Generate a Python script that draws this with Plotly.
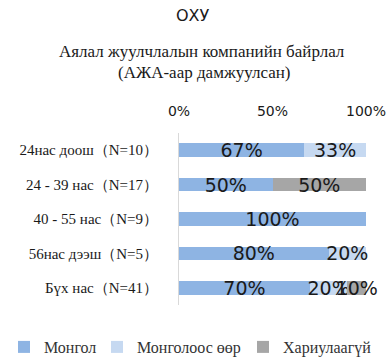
import plotly.graph_objects as go

categories = ["24нас доош（N=10）", "24 - 39 нас（N=17）", "40 - 55 нас（N=9）",
              "56нас дээш（N=5）", "Бүх нас（N=41）"]
series_names = ["Монгол", "Монголоос өөр", "Хариулаагүй"]
mongol = [67, 50, 100, 80, 70]
other = [33, 0, 0, 20, 20]
no_answer = [0, 50, 0, 0, 10]
colors = ["#8EB4E3", "#C6D9F1", "#A6A6A6"]

SERIF = "Liberation Serif, Times New Roman, serif"
SANS = "DejaVu Sans, Verdana, sans-serif"

W, H = 386, 358
L, R, T, B = 179, 20, 133, 53
plot_w = W - L - R
plot_h = H - T - B


def px(xp):
    return (xp - L) / plot_w


def py(yp):
    return (H - B - yp) / plot_h


# one legend box per series so each entry sits at its own spot along the bottom
legend_ids = ["legend", "legend2", "legend3"]
legend_left = [4, 97, 243]

fig = go.Figure()
for name, vals, col, lg in zip(series_names, [mongol, other, no_answer], colors, legend_ids):
    fig.add_trace(go.Bar(
        y=categories, x=vals, name=name, orientation="h", legend=lg,
        marker=dict(color=col, line=dict(width=0)),
        text=[f"{v}%" if v else "" for v in vals],
        textposition="inside", insidetextanchor="middle",
        constraintext="none", cliponaxis=False,
        textfont=dict(family=SANS, size=19, color="#1a1a1a"),
        hoverinfo="skip",
    ))

legend_style = dict(orientation="h", xref="container", yref="container",
                    xanchor="left", yanchor="middle", y=1 - 347 / H,
                    font=dict(family=SERIF, size=16, color="#333"),
                    itemwidth=30, bgcolor="rgba(0,0,0,0)")

fig.update_layout(
    barmode="stack", bargap=0.6,
    width=W, height=H,
    margin=dict(l=L, r=R, t=T, b=B),
    paper_bgcolor="white", plot_bgcolor="white",
    showlegend=True,
    legend=dict(x=legend_left[0] / W, **legend_style),
    legend2=dict(x=legend_left[1] / W, **legend_style),
    legend3=dict(x=legend_left[2] / W, **legend_style),
    xaxis=dict(side="top", range=[0, 100], tickvals=[0, 50, 100],
               ticktext=["0%", "50%", "100%"], showgrid=False, zeroline=False,
               ticks="outside", ticklen=10, tickcolor="rgba(0,0,0,0)",
               ticklabeloverflow="allow", automargin=False,
               tickfont=dict(family=SANS, size=14, color="#1a1a1a")),
    yaxis=dict(autorange="reversed", showline=True, linecolor="#D9D9D9", linewidth=1,
               ticklabelstandoff=17, automargin=False,
               tickfont=dict(family=SERIF, size=15, color="#1a1a1a")),
)
fig.add_annotation(text="ОХУ", x=px(193), y=py(16), xref="paper", yref="paper",
                   showarrow=False, xanchor="center", yanchor="middle",
                   font=dict(family=SANS, size=16, color="#1a1a1a"))
fig.add_annotation(text="Аялал жуулчлалын компанийн байрлал",
                   x=px(202), y=py(51), xref="paper", yref="paper",
                   showarrow=False, xanchor="center", yanchor="middle",
                   font=dict(family=SERIF, size=17, color="#1a1a1a"))
fig.add_annotation(text="(АЖА-аар дамжуулсан)",
                   x=px(204), y=py(72), xref="paper", yref="paper",
                   showarrow=False, xanchor="center", yanchor="middle",
                   font=dict(family=SERIF, size=17, color="#1a1a1a"))

fig.write_html("out.html")
